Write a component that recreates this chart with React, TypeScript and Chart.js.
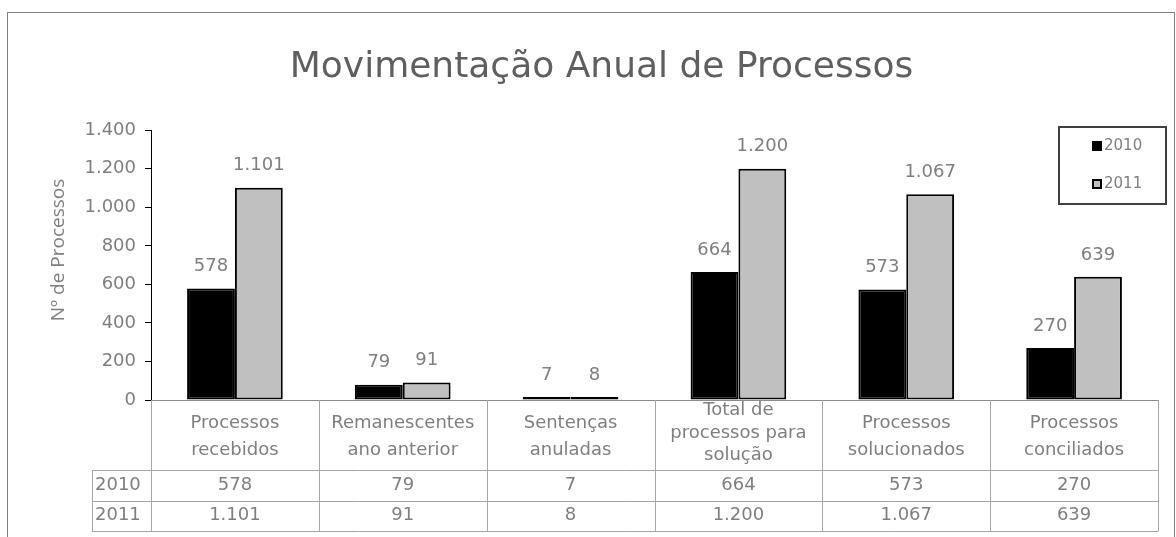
import React, { useEffect, useRef } from "react";
import { Chart, registerables } from "chart.js";

Chart.register(...registerables);

const categories: string[][] = [
  ["Processos", "recebidos"],
  ["Remanescentes", "ano anterior"],
  ["Sentenças", "anuladas"],
  ["Total de", "processos para", "solução"],
  ["Processos", "solucionados"],
  ["Processos", "conciliados"],
];
const seriesNames = ["2010", "2011"];
const values2010 = [578, 79, 7, 664, 573, 270];
const values2011 = [1101, 91, 8, 1200, 1067, 639];
const seriesColors = ["#000000", "#c0c0c0"];
const titleText = "Movimentação Anual de Processos";
const yTitle = "Nº de Processos";

const FONT = '"DejaVu Sans", sans-serif';
const TEXT_GRAY = "#7f7f7f";
const GRID_GRAY = "#a6a6a6";

const fmt = (v: number) =>
  Math.round(v).toString().replace(/\B(?=(\d{3})+(?!\d))/g, ".");

const decorPlugin = {
  id: "decor",
  beforeDraw(chart: any) {
    const ctx = chart.ctx;
    ctx.save();
    ctx.fillStyle = "#ffffff";
    ctx.fillRect(0, 0, chart.width, chart.height);
    ctx.strokeStyle = "#808080";
    ctx.lineWidth = 1;
    ctx.strokeRect(7.5, 12.5, chart.width - 9, chart.height + 20);
    ctx.restore();
  },
  afterDatasetsDraw(chart: any) {
    const ctx = chart.ctx;
    ctx.save();
    ctx.font = `18px ${FONT}`;
    ctx.fillStyle = TEXT_GRAY;
    ctx.textAlign = "center";
    ctx.textBaseline = "middle";
    chart.data.datasets.forEach((ds: any, di: number) => {
      const meta = chart.getDatasetMeta(di);
      meta.data.forEach((bar: any, i: number) => {
        ctx.fillText(fmt(ds.data[i]), bar.x, bar.y - 22);
      });
    });
    ctx.restore();
  },
  afterDraw(chart: any) {
    const ctx = chart.ctx;
    const area = chart.chartArea;
    const xs = chart.scales.x;
    const n = categories.length;
    const cw = (area.right - area.left) / n;
    const top = area.bottom;
    const catBottom = top + 70;
    const rowH = 30.5;
    const leftCol = 92;
    ctx.save();

    // y axis title
    ctx.save();
    ctx.translate(59, 250);
    ctx.rotate(-Math.PI / 2);
    ctx.font = `19px "Open Sans", sans-serif`;
    ctx.fillStyle = TEXT_GRAY;
    ctx.textAlign = "center";
    ctx.textBaseline = "middle";
    ctx.fillText(yTitle, 0, 0);
    ctx.restore();

    // table grid
    ctx.strokeStyle = GRID_GRAY;
    ctx.lineWidth = 1;
    ctx.beginPath();
    for (let i = 0; i <= n; i++) {
      const x = Math.round(area.left + i * cw) + 0.5;
      ctx.moveTo(x, top);
      ctx.lineTo(x, catBottom + 2 * rowH);
    }
    for (let r = 0; r <= 2; r++) {
      const y = Math.round(catBottom + r * rowH) + 0.5;
      ctx.moveTo(leftCol, y);
      ctx.lineTo(area.right + 0.5, y);
    }
    ctx.moveTo(leftCol + 0.5, catBottom);
    ctx.lineTo(leftCol + 0.5, catBottom + 2 * rowH);
    ctx.stroke();

    // category labels
    ctx.font = `18px ${FONT}`;
    ctx.fillStyle = TEXT_GRAY;
    ctx.textAlign = "center";
    ctx.textBaseline = "middle";
    categories.forEach((lines, i) => {
      const cx = xs.getPixelForValue(i);
      const lh = lines.length > 2 ? 22.5 : 27;
      const mid = lines.length > 2 ? top + 33 : top + 37;
      lines.forEach((ln, k) => {
        ctx.fillText(ln, cx, mid + (k - (lines.length - 1) / 2) * lh);
      });
    });

    // value rows
    const rows = [values2010, values2011];
    rows.forEach((vals, r) => {
      const cy = catBottom + r * rowH + rowH / 2;
      ctx.textAlign = "left";
      ctx.fillText(seriesNames[r], leftCol + 3, cy);
      ctx.textAlign = "center";
      vals.forEach((v, i) => {
        ctx.fillText(fmt(v), xs.getPixelForValue(i), cy);
      });
    });

    // legend
    const lx = 1059, ly = 127, lw = 107, lhgt = 77;
    ctx.strokeStyle = "#404040";
    ctx.lineWidth = 2;
    ctx.strokeRect(lx, ly, lw, lhgt);
    ctx.font = `15px ${FONT}`;
    ctx.textAlign = "left";
    ctx.textBaseline = "middle";
    seriesNames.forEach((name, r) => {
      const cy = ly + 19 + r * 38;
      ctx.fillStyle = seriesColors[r];
      ctx.fillRect(1092, cy - 5, 10, 10);
      if (r === 1) {
        ctx.strokeStyle = "#000";
        ctx.lineWidth = 2;
        ctx.strokeRect(1093, cy - 4, 8, 8);
      }
      ctx.fillStyle = TEXT_GRAY;
      ctx.fillText(name, 1104, cy);
    });
    ctx.restore();
  },
};

export default function App() {
  const ref = useRef<HTMLCanvasElement | null>(null);
  useEffect(() => {
    if (!ref.current) return;
    const chart = new Chart(ref.current, {
      type: "bar",
      data: {
        labels: categories.map((c) => c.join(" ")),
        datasets: [
          {
            label: seriesNames[0],
            data: values2010,
            backgroundColor: seriesColors[0],
            borderColor: "#000",
            borderWidth: 2,
            borderSkipped: false,
            minBarLength: 3,
          },
          {
            label: seriesNames[1],
            data: values2011,
            backgroundColor: seriesColors[1],
            borderColor: "#000",
            borderWidth: 2,
            borderSkipped: false,
            minBarLength: 3,
          },
        ],
      },
      options: {
        animation: false,
        responsive: false,
        devicePixelRatio: 1,
        categoryPercentage: 0.57,
        barPercentage: 1,
        layout: { padding: { left: 45, right: 18, top: 0, bottom: 0 } },
        plugins: {
          legend: { display: false },
          tooltip: { enabled: false },
          title: {
            display: true,
            text: titleText,
            color: "#5f5f5f",
            font: { family: FONT, size: 36, weight: "normal" },
            padding: { top: 46, bottom: 41 },
          },
        },
        scales: {
          x: {
            grid: { display: false },
            ticks: { display: false },
            border: { display: true, color: "#8c8c8c" },
            afterFit: (s: any) => {
              s.height = 137;
            },
          },
          y: {
            min: 0,
            max: 1400,
            ticks: {
              stepSize: 200,
              color: TEXT_GRAY,
              font: { family: FONT, size: 18 },
              padding: 9,
              callback: (v: any) => fmt(Number(v)),
            },
            grid: {
              drawOnChartArea: false,
              drawTicks: true,
              tickLength: 6,
              color: "#000",
            },
            border: { display: true, color: "#000" },
            afterFit: (s: any) => {
              s.width = 106;
            },
          },
        },
      },
      plugins: [decorPlugin],
    });
    return () => chart.destroy();
  }, []);
  return (
    <div style={{ position: "absolute", left: 0, top: 0, width: 1176, height: 537 }}>
      <canvas ref={ref} width={1176} height={537} style={{ width: 1176, height: 537, display: "block" }} />
    </div>
  );
}
